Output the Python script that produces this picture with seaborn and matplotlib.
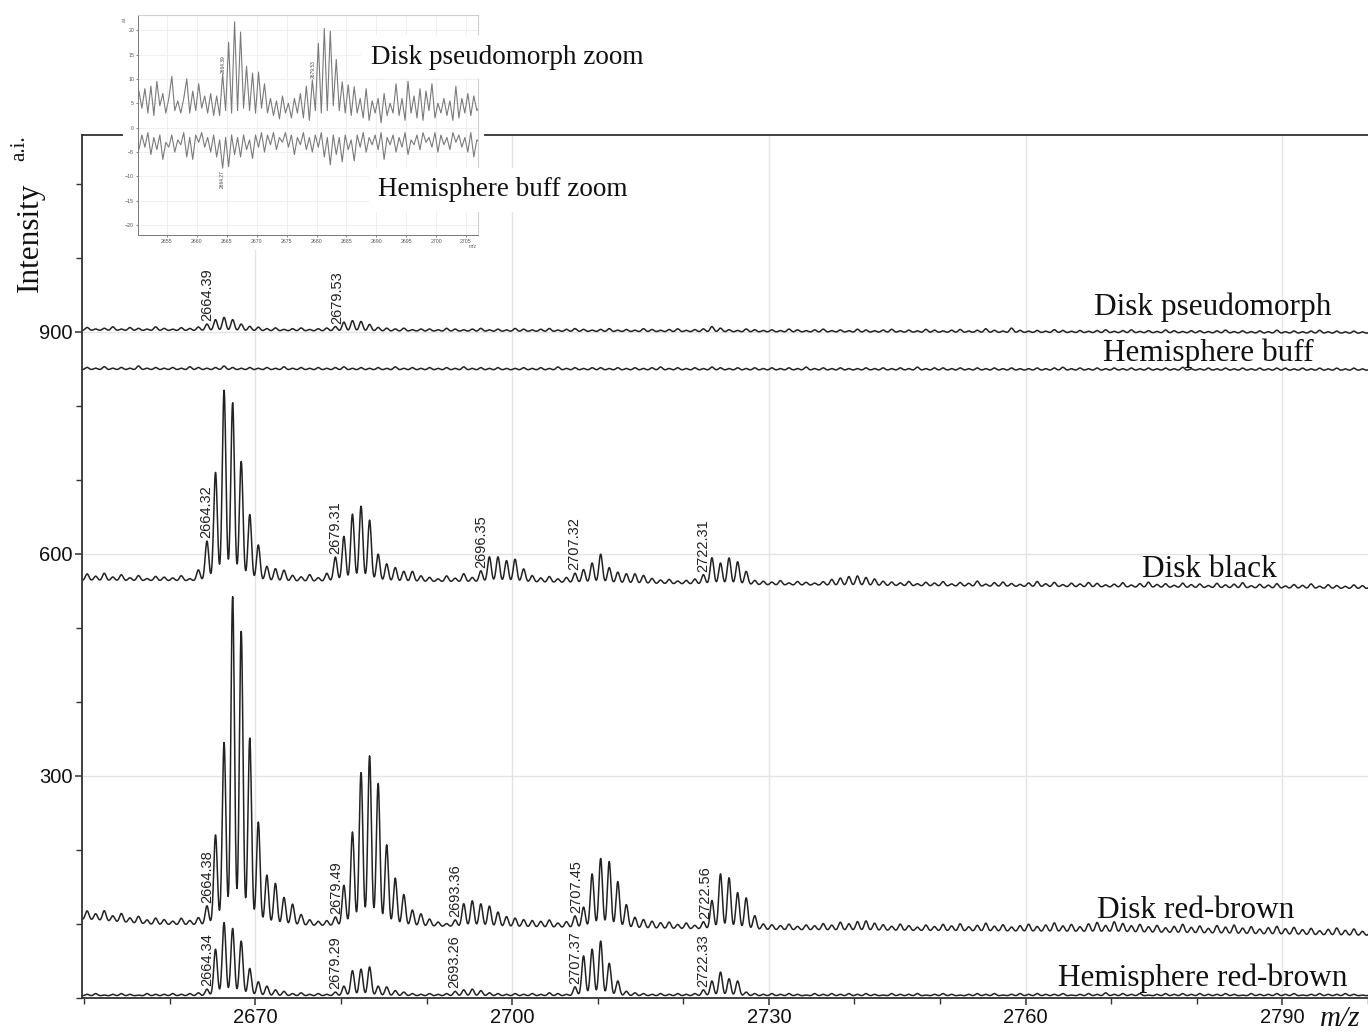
import numpy as np
import matplotlib
matplotlib.use("Agg")
import matplotlib.pyplot as plt
from matplotlib.ticker import FixedLocator, MultipleLocator
from matplotlib.patches import Rectangle
import seaborn as sns

# ---------------- data ----------------
# Peak apex grid: one isotopic / ripple position per Da, starting at 2650.35
MZ_FIRST_PEAK = 2650.35
PEAK_SIGMA = 0.21          # Da, peak shape width

# heights above baseline at each 1-Da position, 2650 ... 2800
DISK_PSEUDOMORPH = [
    4, 2, 3, 5, 2, 4, 3, 2, 5, 3,
    2, 4, 3, 5, 9, 15, 18, 15, 9, 6,
    5, 3, 4, 2, 3, 4, 2, 3, 4, 6,
    12, 14, 13, 9, 5, 4, 3, 4, 2, 3,
    3, 2, 4, 3, 2, 3, 4, 2, 3, 2,
    4, 3, 2, 3, 4, 2, 3, 4, 3, 2,
    3, 4, 2, 3, 2, 4, 3, 2, 3, 4,
    2, 3, 4, 7, 5, 3, 2, 4, 3, 2,
    3, 2, 4, 3, 2, 3, 4, 2, 3, 2,
    4, 3, 2, 3, 4, 2, 3, 2, 4, 3,
    2, 3, 4, 2, 3, 5, 3, 2, 6, 3,
    2, 3, 2, 4, 3, 2, 3, 2, 3, 4,
    2, 3, 4, 2, 3, 2, 4, 3, 2, 3,
    3, 2, 3, 4, 2, 3, 2, 3, 2, 4,
    2, 3, 2, 3, 4, 2, 3, 2, 3, 2,
    3]
HEMISPHERE_BUFF = [
    3, 2, 4, 2, 3, 2, 5, 2, 3, 2,
    3, 2, 4, 3, 2, 3, 5, 3, 2, 3,
    2, 3, 2, 4, 2, 3, 2, 3, 2, 3,
    4, 2, 3, 2, 3, 2, 4, 2, 3, 2,
    3, 2, 3, 2, 4, 2, 3, 2, 3, 2,
    2, 3, 2, 3, 2, 4, 2, 3, 2, 3,
    3, 2, 3, 2, 3, 2, 3, 4, 2, 3,
    2, 3, 2, 4, 3, 2, 3, 2, 3, 2,
    3, 2, 3, 2, 4, 2, 3, 2, 3, 2,
    2, 3, 2, 3, 2, 3, 2, 4, 2, 3,
    3, 2, 3, 2, 3, 2, 3, 2, 3, 2,
    2, 3, 2, 3, 4, 2, 3, 2, 3, 2,
    3, 2, 3, 2, 3, 2, 3, 2, 4, 2,
    2, 3, 2, 3, 2, 3, 2, 3, 2, 3,
    3, 2, 3, 2, 3, 2, 3, 2, 3, 2,
    3]
DISK_BLACK = [
    9, 6, 10, 5, 8, 4, 7, 3, 6, 5,
    4, 7, 3, 15, 54, 147, 258, 241, 162, 90,
    49, 20, 17, 15, 8, 6, 9, 5, 11, 33,
    61, 91, 102, 83, 37, 24, 19, 14, 14, 8,
    6, 4, 8, 5, 11, 6, 15, 34, 34, 29,
    31, 18, 9, 6, 8, 5, 7, 13, 18, 27,
    39, 21, 15, 13, 13, 11, 7, 5, 6, 4,
    5, 7, 13, 36, 29, 36, 31, 18, 6, 5,
    4, 6, 3, 5, 4, 3, 5, 8, 10, 12,
    13, 11, 9, 6, 5, 4, 6, 3, 5, 4,
    6, 3, 5, 4, 7, 3, 5, 6, 4, 3,
    5, 7, 4, 6, 3, 5, 4, 6, 5, 3,
    4, 6, 3, 5, 7, 4, 5, 3, 6, 4,
    5, 3, 6, 4, 5, 7, 3, 5, 4, 6,
    3, 5, 4, 6, 3, 5, 4, 3, 5, 4,
    4]
DISK_RED_BROWN = [
    12, 9, 14, 8, 12, 7, 10, 6, 9, 7,
    5, 9, 6, 10, 26, 122, 247, 444, 398, 253,
    140, 68, 57, 38, 29, 15, 8, 6, 7, 12,
    55, 127, 208, 230, 193, 110, 65, 43, 22, 17,
    10, 6, 4, 9, 31, 35, 31, 28, 20, 14,
    12, 10, 9, 8, 10, 6, 8, 16, 28, 73,
    94, 90, 63, 32, 15, 12, 10, 8, 9, 6,
    8, 5, 10, 39, 75, 70, 50, 43, 19, 8,
    7, 6, 8, 5, 7, 6, 9, 7, 11, 9,
    12, 13, 10, 8, 6, 9, 7, 5, 8, 6,
    9, 7, 10, 6, 8, 11, 7, 9, 6, 8,
    10, 7, 9, 12, 8, 10, 7, 11, 13, 9,
    14, 12, 9, 11, 8, 10, 7, 9, 12, 8,
    10, 7, 11, 9, 12, 8, 10, 7, 9, 11,
    8, 10, 7, 9, 6, 8, 10, 7, 9, 6,
    8]
HEMISPHERE_RED_BROWN = [
    2, 3, 1, 2, 3, 2, 1, 3, 2, 2,
    3, 2, 3, 4, 9, 63, 99, 91, 74, 37,
    19, 13, 8, 6, 3, 4, 2, 3, 2, 5,
    13, 34, 36, 39, 13, 12, 7, 5, 3, 2,
    3, 2, 3, 6, 8, 9, 7, 4, 3, 2,
    3, 2, 3, 2, 4, 3, 2, 12, 54, 63,
    74, 44, 20, 6, 4, 3, 2, 3, 2, 3,
    2, 3, 8, 20, 32, 23, 20, 5, 3, 2,
    3, 2, 3, 2, 1, 3, 2, 3, 2, 3,
    2, 3, 2, 1, 3, 2, 2, 3, 1, 2,
    3, 2, 1, 2, 3, 2, 3, 1, 2, 3,
    2, 3, 2, 2, 3, 1, 2, 3, 2, 4,
    2, 3, 2, 3, 1, 2, 3, 2, 3, 2,
    3, 2, 2, 3, 2, 1, 3, 2, 2, 3,
    2, 3, 1, 2, 3, 2, 2, 3, 2, 1,
    2]

# baselines (m/z knots, intensity)
BASE_DP = ([2650, 2800], [902, 898])
BASE_HB = ([2650, 2800], [849, 848])
BASE_DB = ([2650, 2700, 2730, 2800], [564, 562, 558, 553])
BASE_DRB = ([2650, 2658, 2700, 2730, 2770, 2800], [106, 99, 96, 92, 89, 84])
BASE_HRB = ([2650, 2800], [3, 3])

SPECTRA = {
    "Disk pseudomorph": (DISK_PSEUDOMORPH, BASE_DP),
    "Hemisphere buff": (HEMISPHERE_BUFF, BASE_HB),
    "Disk black": (DISK_BLACK, BASE_DB),
    "Disk red-brown": (DISK_RED_BROWN, BASE_DRB),
    "Hemisphere red-brown": (HEMISPHERE_RED_BROWN, BASE_HRB),
}

PEAK_LABELS = {
    "Disk pseudomorph": ["2664.39", "2679.53"],
    "Hemisphere buff": [],
    "Disk black": ["2664.32", "2679.31", "2696.35", "2707.32", "2722.31"],
    "Disk red-brown": ["2664.38", "2679.49", "2693.36", "2707.45", "2722.56"],
    "Hemisphere red-brown": ["2664.34", "2679.29", "2693.26", "2707.37", "2722.33"],
}

# name label positions (m/z centre, baseline intensity)
NAME_POS = {
    "Disk pseudomorph": (2781.9, 923),
    "Hemisphere buff": (2781.4, 860),
    "Disk black": (2781.5, 569),
    "Disk red-brown": (2779.9, 108),
    "Hemisphere red-brown": (2780.7, 16),
}

X_MAJOR = [2670, 2700, 2730, 2760, 2790]
Y_MAJOR = [300, 600, 900]

# inset (zoom) traces, sampled every 0.5 Da from 2650.3
INSET_MZ0 = 2650.3
INSET_UPPER = [
    7.5, 4.0, 8.0, 3.0, 8.5, 2.5, 9.5, 4.5, 7.0, 3.0, 6.0, 10.5, 3.5, 5.5,
    3.0, 6.0, 10.0, 3.0, 7.5, 3.5, 9.0, 4.0, 6.5, 3.0, 7.0, 2.5, 6.5, 2.5,
    11.0, 3.5, 17.5, 3.0, 21.7, 3.5, 19.6, 4.0, 12.6, 3.5, 11.2, 3.0, 11.4, 4.0,
    9.0, 3.0, 6.0, 2.5, 5.5, 1.8, 6.5, 3.0, 5.0, 2.0, 6.0, 3.0, 7.0, 2.0, 8.5, 1.5,
    9.8, 3.5, 17.3, 3.0, 20.3, 3.5, 19.8, 4.5, 14.0, 3.5, 9.4, 3.0, 8.8, 2.5, 8.4, 3.0,
    6.0, 2.0, 8.0, 1.5, 5.5, 3.0, 6.0, 1.0, 7.0, 2.5, 5.0, 3.0, 9.0, 2.5, 6.0, 1.5,
    9.5, 3.0, 6.5, 2.0, 8.0, 1.5, 7.5, 3.5, 9.0, 2.0, 5.0, 3.0, 6.0, 2.5, 5.5, 1.5,
    8.5, 2.0, 6.0, 3.0, 7.0, 2.5, 6.5, 3.5, 4.5]
INSET_LOWER = [
    -4.5, -1.5, -4.0, -1.0, -5.5, -2.0, -4.5, -1.5, -6.5, -3.0, -4.0, -1.5, -5.0, -2.5,
    -3.5, -1.0, -6.0, -2.0, -6.5, -1.5, -3.0, -1.0, -4.0, -2.0, -5.0, -1.5, -6.0, -2.5,
    -8.3, -2.0, -8.0, -1.5, -5.5, -2.0, -6.0, -1.5, -4.5, -2.5, -6.3, -1.5, -4.0, -1.0,
    -5.0, -1.5, -3.5, -1.0, -4.5, -2.0, -3.0, -1.0, -4.0, -1.5, -5.5, -2.0, -3.5, -1.0, -4.5, -2.0,
    -5.0, -1.5, -4.0, -1.0, -6.0, -2.0, -7.6, -1.5, -5.5, -2.0, -7.0, -1.5, -4.5, -2.5, -6.8, -1.5,
    -4.0, -1.0, -5.0, -2.0, -3.5, -1.5, -4.5, -1.0, -6.5, -2.0, -3.5, -1.5, -5.0, -2.0, -4.0, -1.0,
    -5.5, -2.5, -3.5, -1.5, -4.5, -1.0, -3.0, -2.0, -4.0, -1.0, -5.0, -1.5, -3.5, -2.0, -4.5, -1.0,
    -3.0, -1.5, -4.0, -2.0, -5.0, -1.0, -6.0, -2.5, -3.0]
INSET_UPPER_LABELS = ["2664.39", "2679.53"]
INSET_LOWER_LABELS = ["2664.27"]
INSET_XTICKS = [2655, 2660, 2665, 2670, 2675, 2680, 2685, 2690, 2695, 2700, 2705]
INSET_YTICKS = [-20, -15, -10, -5, 0, 5, 10, 15, 20]

# ---------------- drawing ----------------
W, H = 1368, 1032
sns.set_theme(style="white")
plt.rcParams['font.family'] = ['Liberation Sans', 'DejaVu Sans']
SERIF = ['Liberation Serif', 'DejaVu Serif']
LINE = '#222222'

fig = plt.figure(figsize=(W / 100, H / 100), dpi=100)
ax = fig.add_axes([82 / W, 34 / H, (W - 82) / W, 863 / H], zorder=0)

x = np.linspace(2649.75, 2800.2, 4000)


def profile(heights, base, xs):
    peaks = MZ_FIRST_PEAK + np.arange(len(heights))
    b = np.interp(xs, base[0], base[1])
    g = np.exp(-0.5 * ((xs[None, :] - peaks[:, None]) / PEAK_SIGMA) ** 2)
    return b + (np.asarray(heights, float)[:, None] * g).sum(0)


for name, (heights, base) in SPECTRA.items():
    y = profile(heights, base, x)
    sns.lineplot(x=x, y=y, ax=ax, color=LINE, lw=1.1, estimator=None, sort=False)
    for lab in PEAK_LABELS[name]:
        m = float(lab)
        sel = (x > m - 0.35) & (x < m + 0.35)
        ax.text(m, y[sel].max() + 4, lab, rotation=90, ha='center', va='bottom',
                fontsize=10.5, color='#222222')
    nx, ny = NAME_POS[name]
    ax.text(nx, ny, name, ha='center', va='baseline', fontsize=22.5,
            family=SERIF, color='#111111')

ax.set_xlim(2649.75, 2800.0)
ax.set_ylim(0, 1166)
ax.xaxis.set_major_locator(FixedLocator(X_MAJOR))
ax.xaxis.set_minor_locator(MultipleLocator(10))
ax.yaxis.set_major_locator(FixedLocator(Y_MAJOR))
ax.yaxis.set_minor_locator(MultipleLocator(100))
ax.grid(True, which='major', color='#e4e4e4', lw=1.0)
ax.tick_params(axis='both', which='major', direction='out', length=5, width=1.1,
               labelsize=14.5, pad=2, color='#333333', labelcolor='#111111',
               bottom=True, left=True)
ax.tick_params(axis='both', which='minor', direction='out', length=4, width=1.0,
               color='#333333', bottom=True, left=True)
ax.set_xlabel('')
ax.set_ylabel('')
for side in ['left', 'bottom', 'top']:
    ax.spines[side].set_color('#333333')
    ax.spines[side].set_linewidth(1.3)
ax.spines['right'].set_visible(False)

# axis titles
fig.text(30 / W, 1 - 237 / H, 'Intensity', rotation=90, ha='center', va='center',
         fontsize=22.5, family=SERIF, color='#111111')
fig.text(20 / W, 1 - 148 / H, 'a.i.', rotation=90, ha='center', va='center',
         fontsize=15, family=SERIF, color='#111111')
fig.text(1320 / W, 1 - 1019 / H, 'm/z', ha='left', va='center',
         fontsize=21, family=SERIF, style='italic', color='#111111')

# white backing of inset picture
fig.add_artist(Rectangle((123 / W, 1 - 250 / H), (484 - 123) / W, (250 - 8) / H,
                         transform=fig.transFigure, facecolor='white',
                         edgecolor='none', zorder=2))

# inset
axi = fig.add_axes([138.3 / W, 1 - 235 / H, 339.7 / W, 220 / H], zorder=3)
axi.set_facecolor('white')
xi = INSET_MZ0 + 0.5 * np.arange(len(INSET_UPPER))
xl = INSET_MZ0 + 0.5 * np.arange(len(INSET_LOWER))
sns.lineplot(x=xi, y=INSET_UPPER, ax=axi, color='#7a7a7a', lw=0.8, estimator=None, sort=False)
sns.lineplot(x=xl, y=INSET_LOWER, ax=axi, color='#7a7a7a', lw=0.8, estimator=None, sort=False)
up = np.asarray(INSET_UPPER)
lo = np.asarray(INSET_LOWER)
for lab in INSET_UPPER_LABELS:
    m = float(lab)
    sel = np.abs(xi - m) < 0.5
    axi.text(m, up[sel].max() + 0.3, lab, rotation=90, ha='center', va='bottom',
             fontsize=3.5, color='#444444')
for lab in INSET_LOWER_LABELS:
    m = float(lab)
    sel = np.abs(xl - m) < 0.5
    axi.text(m, lo[sel].min() - 0.3, lab, rotation=90, ha='center', va='top',
             fontsize=3.5, color='#444444')
axi.set_xlim(2650.2, 2707.0)
axi.set_ylim(-22, 23.1)
axi.set_xticks(INSET_XTICKS)
axi.set_yticks(INSET_YTICKS)
axi.grid(True, color='#ececec', lw=0.6)
axi.tick_params(labelsize=3.8, length=1.5, width=0.5, pad=1.5, colors='#555555',
                bottom=True, left=True)
axi.set_xlabel('')
axi.set_ylabel('')
for side in ['left', 'bottom']:
    axi.spines[side].set_color('#777777')
    axi.spines[side].set_linewidth(0.7)
for side in ['top', 'right']:
    axi.spines[side].set_color('#cfcfcf')
    axi.spines[side].set_linewidth(0.8)
fig.text(124 / W, 1 - 19 / H, 'a.i.', rotation=90, ha='center', va='center',
         fontsize=3.5, color='#555555', zorder=4)
fig.text(473 / W, 1 - 246 / H, 'm/z', ha='center', va='center',
         fontsize=3.5, color='#555555', zorder=4)

# inset captions
box = dict(boxstyle='square,pad=0.35', facecolor='white', edgecolor='none')
fig.text(507 / W, 1 - 57 / H, 'Disk pseudomorph zoom', ha='center', va='center',
         fontsize=19.5, family=SERIF, color='#111111', bbox=box, zorder=5)
fig.text(503 / W, 1 - 190 / H, 'Hemisphere buff zoom', ha='center', va='center',
         fontsize=19.5, family=SERIF, color='#111111', bbox=box, zorder=5)

fig.savefig('out.png', dpi=100)
